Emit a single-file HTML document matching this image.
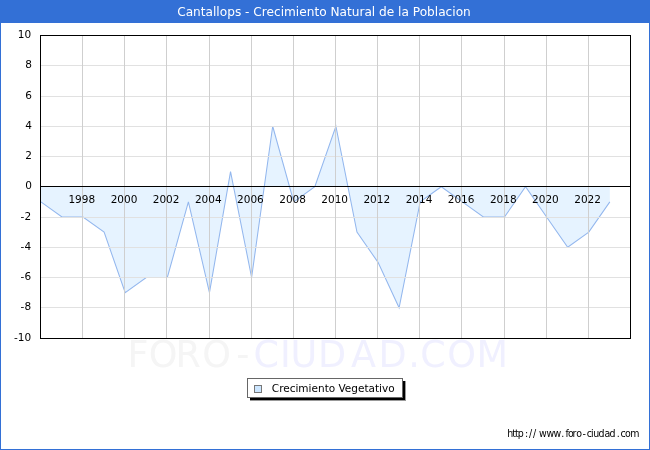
<!DOCTYPE html>
<html><head><meta charset="utf-8"><title>Cantallops - Crecimiento Natural de la Poblacion</title>
<style>
html,body{margin:0;padding:0;background:#fff;}
svg{display:block;}
text{font-family:"DejaVu Sans","Liberation Sans",sans-serif;fill:#000;}
</style></head><body>
<svg width="650" height="450" viewBox="0 0 650 450">
<rect x="0" y="0" width="650" height="450" fill="#ffffff"/>
<rect x="0.5" y="0.5" width="649" height="449" fill="none" stroke="#3370d6" stroke-width="1"/>
<rect x="0" y="0" width="650" height="23" fill="#3370d6"/>
<text x="324" y="15.7" text-anchor="middle" font-size="12.15" style="fill:#fff">Cantallops - Crecimiento Natural de la Poblacion</text>
<text y="367" font-size="36.5" style="fill:#f0f0ff" x="127.4 148.7 175.4 202.3 236.3 253.5 279.9 290.6 318 351 378.5 408.3 420.3 447.3 476.6"><tspan style="fill:#f5f5f5">FORO-</tspan>CIUDAD.COM</text>

<polygon points="40.90,186.75 40.90,201.88 61.97,217.00 83.04,217.00 104.11,232.12 125.19,292.62 146.26,277.50 167.33,277.50 188.40,201.88 209.47,292.62 230.54,171.62 251.61,277.50 272.69,126.25 293.76,201.88 314.83,186.75 335.90,126.25 356.97,232.12 378.04,262.38 399.11,307.75 420.19,201.88 441.26,186.75 462.33,201.88 483.40,217.00 504.47,217.00 525.54,186.75 546.61,217.00 567.69,247.25 588.76,232.12 609.83,201.88 609.83,186.75" fill="#e6f3ff"/>
<polyline points="40.90,201.88 61.97,217.00 83.04,217.00 104.11,232.12 125.19,292.62 146.26,277.50 167.33,277.50 188.40,201.88 209.47,292.62 230.54,171.62 251.61,277.50 272.69,126.25 293.76,201.88 314.83,186.75 335.90,126.25 356.97,232.12 378.04,262.38 399.11,307.75 420.19,201.88 441.26,186.75 462.33,201.88 483.40,217.00 504.47,217.00 525.54,186.75 546.61,217.00 567.69,247.25 588.76,232.12 609.83,201.88" fill="none" stroke="#93b7ee" stroke-width="1.05"/>
<line x1="40.5" x2="630.5" y1="307.5" y2="307.5" stroke="#e1e1e1" stroke-width="1"/>
<line x1="40.5" x2="630.5" y1="277.5" y2="277.5" stroke="#e1e1e1" stroke-width="1"/>
<line x1="40.5" x2="630.5" y1="247.5" y2="247.5" stroke="#e1e1e1" stroke-width="1"/>
<line x1="40.5" x2="630.5" y1="217.5" y2="217.5" stroke="#e1e1e1" stroke-width="1"/>
<line x1="40.5" x2="630.5" y1="156.5" y2="156.5" stroke="#e1e1e1" stroke-width="1"/>
<line x1="40.5" x2="630.5" y1="126.5" y2="126.5" stroke="#e1e1e1" stroke-width="1"/>
<line x1="40.5" x2="630.5" y1="96.5" y2="96.5" stroke="#e1e1e1" stroke-width="1"/>
<line x1="40.5" x2="630.5" y1="65.5" y2="65.5" stroke="#e1e1e1" stroke-width="1"/>
<line x1="82.5" x2="82.5" y1="35.5" y2="338.5" stroke="#cfcfcf" stroke-width="1"/>
<line x1="124.5" x2="124.5" y1="35.5" y2="338.5" stroke="#cfcfcf" stroke-width="1"/>
<line x1="166.5" x2="166.5" y1="35.5" y2="338.5" stroke="#cfcfcf" stroke-width="1"/>
<line x1="209.5" x2="209.5" y1="35.5" y2="338.5" stroke="#cfcfcf" stroke-width="1"/>
<line x1="251.5" x2="251.5" y1="35.5" y2="338.5" stroke="#cfcfcf" stroke-width="1"/>
<line x1="293.5" x2="293.5" y1="35.5" y2="338.5" stroke="#cfcfcf" stroke-width="1"/>
<line x1="335.5" x2="335.5" y1="35.5" y2="338.5" stroke="#cfcfcf" stroke-width="1"/>
<line x1="377.5" x2="377.5" y1="35.5" y2="338.5" stroke="#cfcfcf" stroke-width="1"/>
<line x1="419.5" x2="419.5" y1="35.5" y2="338.5" stroke="#cfcfcf" stroke-width="1"/>
<line x1="461.5" x2="461.5" y1="35.5" y2="338.5" stroke="#cfcfcf" stroke-width="1"/>
<line x1="504.5" x2="504.5" y1="35.5" y2="338.5" stroke="#cfcfcf" stroke-width="1"/>
<line x1="546.5" x2="546.5" y1="35.5" y2="338.5" stroke="#cfcfcf" stroke-width="1"/>
<line x1="588.5" x2="588.5" y1="35.5" y2="338.5" stroke="#cfcfcf" stroke-width="1"/>
<rect x="40.5" y="35.5" width="590.0" height="303.0" fill="none" stroke="#000" stroke-width="1"/>
<line x1="40.5" x2="630.5" y1="186.5" y2="186.5" stroke="#000" stroke-width="1"/>
<text x="31.1" y="341" text-anchor="end" font-size="10.5">-10</text>
<text x="31.1" y="310" text-anchor="end" font-size="10.5">-8</text>
<text x="31.1" y="280" text-anchor="end" font-size="10.5">-6</text>
<text x="31.1" y="250" text-anchor="end" font-size="10.5">-4</text>
<text x="31.1" y="220" text-anchor="end" font-size="10.5">-2</text>
<text x="31.9" y="189" text-anchor="end" font-size="10.5">0</text>
<text x="31.9" y="159" text-anchor="end" font-size="10.5">2</text>
<text x="31.9" y="129" text-anchor="end" font-size="10.5">4</text>
<text x="31.9" y="99" text-anchor="end" font-size="10.5">6</text>
<text x="31.9" y="68" text-anchor="end" font-size="10.5">8</text>
<text x="31.1" y="38" text-anchor="end" font-size="10.5">10</text>
<text x="81.8" y="203" text-anchor="middle" font-size="10.5">1998</text>
<text x="124.0" y="203" text-anchor="middle" font-size="10.5">2000</text>
<text x="166.1" y="203" text-anchor="middle" font-size="10.5">2002</text>
<text x="208.3" y="203" text-anchor="middle" font-size="10.5">2004</text>
<text x="250.4" y="203" text-anchor="middle" font-size="10.5">2006</text>
<text x="292.6" y="203" text-anchor="middle" font-size="10.5">2008</text>
<text x="334.7" y="203" text-anchor="middle" font-size="10.5">2010</text>
<text x="376.8" y="203" text-anchor="middle" font-size="10.5">2012</text>
<text x="419.0" y="203" text-anchor="middle" font-size="10.5">2014</text>
<text x="461.1" y="203" text-anchor="middle" font-size="10.5">2016</text>
<text x="503.3" y="203" text-anchor="middle" font-size="10.5">2018</text>
<text x="545.4" y="203" text-anchor="middle" font-size="10.5">2020</text>
<text x="587.6" y="203" text-anchor="middle" font-size="10.5">2022</text>
<rect x="250" y="381" width="156" height="20" fill="#999"/>
<rect x="250" y="381" width="155" height="19" fill="#000"/>
<rect x="247.500" y="378.5" width="155" height="19" fill="#fff" stroke="#666" stroke-width="1"/>
<rect x="254.500" y="385.5" width="7" height="7" fill="#cce6ff" stroke="#777" stroke-width="1"/>
<text x="271.8" y="392" font-size="10.5">Crecimiento Vegetativo</text>
<text x="507.2 512.2 515.0 517.7 525.1 529.0 533.1 539.0 546.4 553.6 561.2 565.4 568.1 572.4 576.2 582.4 586.8 590.9 593.2 598.6 604.5 609.5 616.7 620.5 625.0 630.2" y="437" font-size="10.5" style="font-family:'DejaVu Sans Condensed','DejaVu Sans',sans-serif">http://www.foro-ciudad.com</text>
</svg></body></html>
